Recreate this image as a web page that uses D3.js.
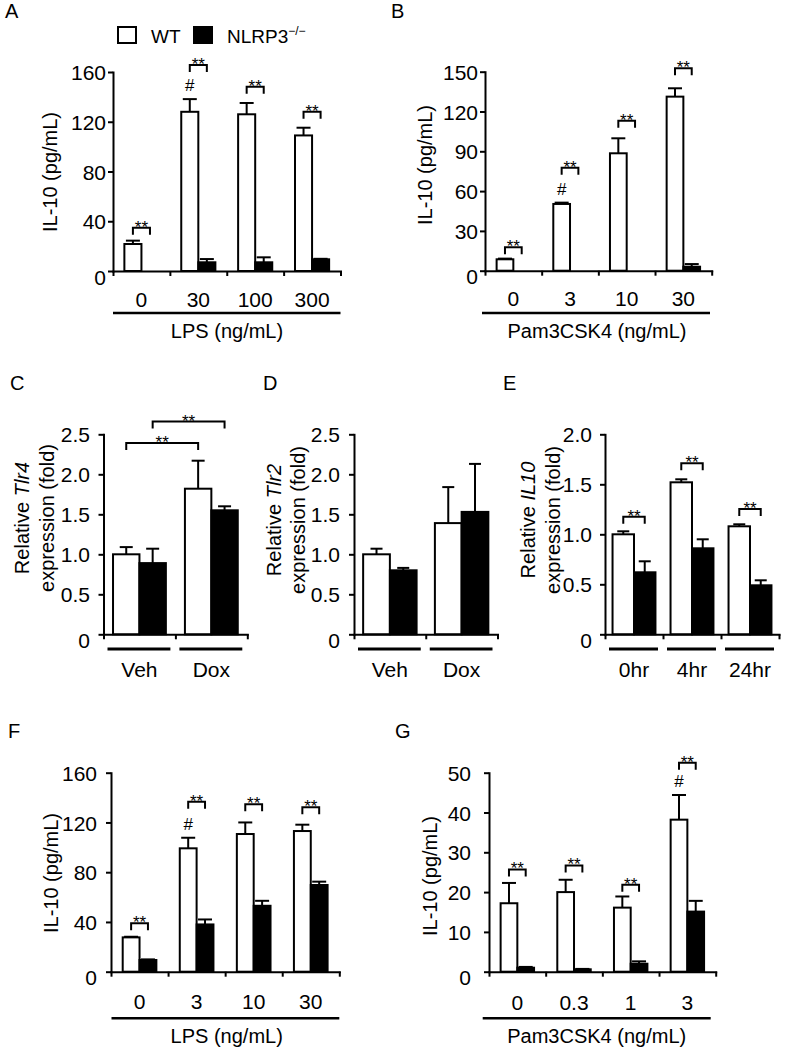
<!DOCTYPE html>
<html><head><meta charset="utf-8">
<script src="https://cdn.jsdelivr.net/npm/d3@7"></script>
<style>
html,body{margin:0;padding:0;background:#fff;}
svg{display:block;font-family:"Liberation Sans",Arial,Helvetica,sans-serif;}
</style></head><body>
<svg id="fig" width="787" height="1052"></svg>
<script>
// ---------------- DATA ----------------
const seriesNames = ["WT", "NLRP3"];

// Panel A: LPS, IL-10 (pg/mL)
const aCategories = ["0", "30", "100", "300"];
const aWT = [21.7, 128, 126, 109];
const aWTErr = [2.7, 10.2, 9.1, 6.2];
const aKO = [0, 7, 7, 9.4];
const aKOErr = [0, 2.6, 4, 0.4];
const aTicks = [0, 40, 80, 120, 160];
const aSigLevels = [34.8, 165.6, 148.2, 128.1];
const aHashGroups = [1];

// Panel B: Pam3CSK4, IL-10 (pg/mL)
const bCategories = ["0", "3", "10", "30"];
const bWT = [8.6, 50.3, 88.5, 131.2];
const bWTErr = [0.5, 1.0, 11.3, 6.3];
const bKO = [0, 0, 0, 3];
const bKOErr = [0, 0, 0, 2];
const bTicks = [0, 30, 60, 90, 120, 150];
const bSigLevels = [17.6, 77.6, 113, 152.6];
const bHashGroups = [1];

// Panel C: Tlr4 expression
const cCategories = ["Veh", "Dox"];
const cWT = [1.0, 1.82];
const cWTErr = [0.09, 0.35];
const cKO = [0.89, 1.55];
const cKOErr = [0.18, 0.05];
const cTicks = [0, 0.5, 1.0, 1.5, 2.0, 2.5];
// between-group comparisons: [group1, series1, group2, series2, level]
const cSig = [[0, 0, 1, 0, 2.39], [0, 1, 1, 1, 2.66]];

// Panel D: Tlr2 expression
const dCategories = ["Veh", "Dox"];
const dWT = [1.0, 1.39];
const dWTErr = [0.07, 0.45];
const dKO = [0.8, 1.53];
const dKOErr = [0.03, 0.6];
const dTicks = [0, 0.5, 1.0, 1.5, 2.0, 2.5];

// Panel E: IL10 expression
const eCategories = ["0hr", "4hr", "24hr"];
const eWT = [1.0, 1.52, 1.08];
const eWTErr = [0.03, 0.03, 0.02];
const eKO = [0.62, 0.86, 0.49];
const eKOErr = [0.11, 0.09, 0.05];
const eTicks = [0, 0.5, 1.0, 1.5, 2.0];
const eSigLevels = [1.176, 1.71, 1.253];

// Panel F: LPS, IL-10 (pg/mL)
const fCategories = ["0", "3", "10", "30"];
const fWT = [27.6, 99.2, 110.7, 113.1];
const fWTErr = [0.5, 8.5, 9.3, 5.1];
const fKO = [9.4, 38, 53, 69.7];
const fKOErr = [0.5, 4, 4, 2.7];
const fTicks = [0, 40, 80, 120, 160];
const fSigLevels = [38.9, 136.7, 134.6, 132.2];
const fHashGroups = [1];

// Panel G: Pam3CSK4, IL-10 (pg/mL)
const gCategories = ["0", "0.3", "1", "3"];
const gWT = [17.2, 20, 16.1, 38.2];
const gWTErr = [5.1, 3.1, 2.8, 6.2];
const gKO = [1.0, 0.6, 2.0, 15.1];
const gKOErr = [0.2, 0.1, 0.6, 2.7];
const gTicks = [0, 10, 20, 30, 40, 50];
const gSigLevels = [25.7, 26.7, 21.85, 52.5];
const gHashGroups = [3];

// ---------------- DRAWING ----------------
const svg = d3.select("#fig");
const fmtInt = d3.format("d");
const fmtDec = v => v === 0 ? "0" : d3.format(".1f")(v);

function within(levels) { return levels.map((lv, i) => [i, 0, i, 1, lv]); }

function drawPanel(p) {
  const g = svg.append("g");
  const n = p.categories.length;
  const x0 = d3.scaleBand().domain(p.categories).range([p.left, p.right]);
  const o = 1 / p.barFrac - 1;
  const x1 = d3.scaleBand().domain(seriesNames).range([0, x0.bandwidth()]).paddingInner(0).paddingOuter(o);
  const y = d3.scaleLinear().domain([0, p.max]).range([p.bottom, p.top]);
  const series = [
    {name: "WT", vals: p.wt, errs: p.wtErr, fill: "#fff"},
    {name: "NLRP3", vals: p.ko, errs: p.koErr, fill: "#000"}
  ];
  const cx = (gi, si) => x0(p.categories[gi]) + x1(seriesNames[si]) + x1.bandwidth() / 2;

  series.forEach((s, si) => {
    const rows = p.categories.map((c, i) => ({c, i, v: s.vals[i], e: s.errs[i]}));
    g.append("g").selectAll("rect").data(rows.filter(d => d.v > 0)).join("rect")
      .attr("x", d => x0(d.c) + x1(s.name))
      .attr("width", x1.bandwidth())
      .attr("y", d => y(d.v))
      .attr("height", d => y(0) - y(d.v))
      .attr("fill", s.fill).attr("stroke", "#000").attr("stroke-width", 2);
    const eg = g.append("g").attr("stroke", "#000").attr("stroke-width", 2).attr("fill", "none");
    const er = rows.filter(d => d.e > 0);
    eg.selectAll("line.v").data(er).join("line").attr("class", "v")
      .attr("x1", d => cx(d.i, si)).attr("x2", d => cx(d.i, si))
      .attr("y1", d => y(d.v)).attr("y2", d => y(d.v + d.e));
    eg.selectAll("line.c").data(er).join("line").attr("class", "c")
      .attr("x1", d => cx(d.i, si) - p.cap).attr("x2", d => cx(d.i, si) + p.cap)
      .attr("y1", d => y(d.v + d.e)).attr("y2", d => y(d.v + d.e));
  });

  // y axis
  const ya = g.append("g").attr("transform", `translate(${p.left},0)`)
    .call(d3.axisLeft(y).tickValues(p.ticks).tickSize(5).tickSizeOuter(0).tickPadding(p.pad).tickFormat(p.fmt));
  ya.attr("font-size", null).attr("font-family", null);
  ya.select(".domain").attr("stroke-width", 2).attr("stroke-linecap", "square");
  ya.selectAll(".tick line").attr("stroke-width", 2);
  ya.selectAll(".tick text").attr("font-size", 21).attr("fill", "#000").attr("dy", "0.36em");
  ya.selectAll(".tick text").filter(d => d === 0).attr("dy", "0.62em");

  // x axis with boundary ticks
  const xb = d3.scaleLinear().domain([0, n]).range([p.left, p.right]);
  const xa = g.append("g").attr("transform", `translate(0,${p.bottom})`)
    .call(d3.axisBottom(xb).tickValues(d3.range(n + 1)).tickSize(5).tickSizeOuter(0).tickFormat(""));
  xa.select(".domain").attr("stroke-width", 2).attr("stroke-linecap", "square");
  xa.selectAll(".tick line").attr("stroke-width", 2);

  // category labels
  g.append("g").selectAll("text").data(p.categories).join("text")
    .attr("x", c => x0(c) + x0.bandwidth() / 2).attr("y", p.catY)
    .attr("text-anchor", "middle").attr("font-size", 21).text(c => c);

  if (p.groupLines) {
    g.append("g").selectAll("line").data(p.categories).join("line")
      .attr("x1", c => x0(c) + 4).attr("x2", c => x0(c) + x0.bandwidth() - 5)
      .attr("y1", p.groupLines).attr("y2", p.groupLines)
      .attr("stroke", "#000").attr("stroke-width", 3);
  }
  if (p.under) {
    g.append("line").attr("x1", p.under[0]).attr("x2", p.under[1])
      .attr("y1", p.under[2]).attr("y2", p.under[2]).attr("stroke", "#000").attr("stroke-width", 2.5);
  }
  if (p.title) {
    g.append("text").attr("x", p.title[1]).attr("y", p.title[2]).attr("text-anchor", "middle")
      .attr("font-size", 20).text(p.title[0]);
  }
  // y label(s)
  p.ylab.forEach(l => {
    const t = g.append("text").attr("transform", `translate(${l.x},${l.y}) rotate(-90)`)
      .attr("text-anchor", "middle").attr("dy", "0.35em").attr("font-size", 20);
    l.parts.forEach(pt => t.append("tspan").attr("font-style", pt[1] ? "italic" : null).text(pt[0]));
  });

  // significance brackets
  const sg = g.append("g");
  (p.sig || []).forEach(b => {
    const xa1 = cx(b[0], b[1]), xa2 = cx(b[2], b[3]), yy = y(b[4]);
    sg.append("path").attr("d", `M${xa1},${yy + 7}V${yy}H${xa2}V${yy + 7}`)
      .attr("fill", "none").attr("stroke", "#000").attr("stroke-width", 2);
    sg.append("text").attr("x", (xa1 + xa2) / 2).attr("y", yy + 5)
      .attr("text-anchor", "middle").attr("font-size", 17).attr("fill", "#000").text("**");
  });
  (p.hash || []).forEach(gi => {
    sg.append("text").attr("x", cx(gi, 0)).attr("y", y(p.wt[gi] + p.wtErr[gi]) - 8)
      .attr("text-anchor", "middle").attr("font-size", 17).attr("fill", "#000").text("#");
  });

  svg.append("text").attr("x", p.letter[1]).attr("y", p.letter[2]).attr("font-size", 20).text(p.letter[0]);
}

const ilLab = x => [{x: x[0], y: x[1], parts: [["IL-10 (pg/mL)", false]]}];
const relLab = (gene, x1, x2, yc) => [
  {x: x1, y: yc, parts: [["Relative ", false], [gene, true]]},
  {x: x2, y: yc, parts: [["expression (fold)", false]]}
];

drawPanel({letter: ["A", 5, 18], categories: aCategories, wt: aWT, wtErr: aWTErr, ko: aKO, koErr: aKOErr,
  left: 113, right: 340.5, bottom: 271, top: 72, max: 160, ticks: aTicks, fmt: fmtInt, pad: 2,
  barFrac: 0.6, cap: 7, catY: 307, under: [113, 340.5, 313], title: ["LPS (ng/mL)", 227, 338],
  ylab: ilLab([50, 172]), sig: within(aSigLevels), hash: aHashGroups});

drawPanel({letter: ["B", 391, 18], categories: bCategories, wt: bWT, wtErr: bWTErr, ko: bKO, koErr: bKOErr,
  left: 485, right: 711.7, bottom: 270.7, top: 71.7, max: 150, ticks: bTicks, fmt: fmtInt, pad: 2,
  barFrac: 0.59, cap: 7, catY: 306, under: [482, 710, 313], title: ["Pam3CSK4 (ng/mL)", 597, 338],
  ylab: ilLab([425, 165]), sig: within(bSigLevels), hash: bHashGroups});

drawPanel({letter: ["C", 10, 390], categories: cCategories, wt: cWT, wtErr: cWTErr, ko: cKO, koErr: cKOErr,
  left: 103.5, right: 247.3, bottom: 634.3, top: 434.3, max: 2.5, ticks: cTicks, fmt: fmtDec, pad: 8.5,
  barFrac: 0.735, cap: 6.5, catY: 677, groupLines: 649,
  ylab: relLab("Tlr4", 22, 47, 518), sig: cSig});

drawPanel({letter: ["D", 263, 390], categories: dCategories, wt: dWT, wtErr: dWTErr, ko: dKO, koErr: dKOErr,
  left: 354, right: 497.5, bottom: 634.3, top: 434.3, max: 2.5, ticks: dTicks, fmt: fmtDec, pad: 9,
  barFrac: 0.745, cap: 6, catY: 677, groupLines: 649,
  ylab: relLab("Tlr2", 274, 298, 520), sig: []});

drawPanel({letter: ["E", 503, 390], categories: eCategories, wt: eWT, wtErr: eWTErr, ko: eKO, koErr: eKOErr,
  left: 605, right: 779, bottom: 634.3, top: 434.3, max: 2.0, ticks: eTicks, fmt: fmtDec, pad: 8,
  barFrac: 0.74, cap: 6, catY: 677, groupLines: 649,
  ylab: relLab("IL10", 528, 553, 520), sig: within(eSigLevels)});

drawPanel({letter: ["F", 8, 738], categories: fCategories, wt: fWT, wtErr: fWTErr, ko: fKO, koErr: fKOErr,
  left: 111, right: 339.3, bottom: 971.7, top: 772.7, max: 160, ticks: fTicks, fmt: fmtInt, pad: 9,
  barFrac: 0.59, cap: 7, catY: 1009, under: [111.5, 339.3, 1018.3], title: ["LPS (ng/mL)", 226.7, 1043],
  ylab: ilLab([51, 873]), sig: within(fSigLevels), hash: fHashGroups});

drawPanel({letter: ["G", 395, 738], categories: gCategories, wt: gWT, wtErr: gWTErr, ko: gKO, koErr: gKOErr,
  left: 489, right: 715.7, bottom: 971.7, top: 772.7, max: 50, ticks: gTicks, fmt: fmtInt, pad: 13,
  barFrac: 0.59, cap: 7, catY: 1009.5, under: [482.7, 710.7, 1018.3], title: ["Pam3CSK4 (ng/mL)", 596.7, 1043],
  ylab: ilLab([430, 876]), sig: within(gSigLevels), hash: gHashGroups});

// legend
const lg = svg.append("g");
lg.selectAll("rect").data(seriesNames).join("rect")
  .attr("x", (d, i) => i === 0 ? 118 : 194).attr("y", 27).attr("width", 18).attr("height", 16)
  .attr("fill", (d, i) => i === 0 ? "#fff" : "#000").attr("stroke", "#000").attr("stroke-width", 2);
lg.append("text").attr("x", 151).attr("y", 43).attr("font-size", 19).text(seriesNames[0]);
const lt = lg.append("text").attr("x", 227).attr("y", 43).attr("font-size", 19).text(seriesNames[1]);
lt.append("tspan").attr("font-size", 12).attr("dy", -8).text("−/−");
</script>
</body></html>
